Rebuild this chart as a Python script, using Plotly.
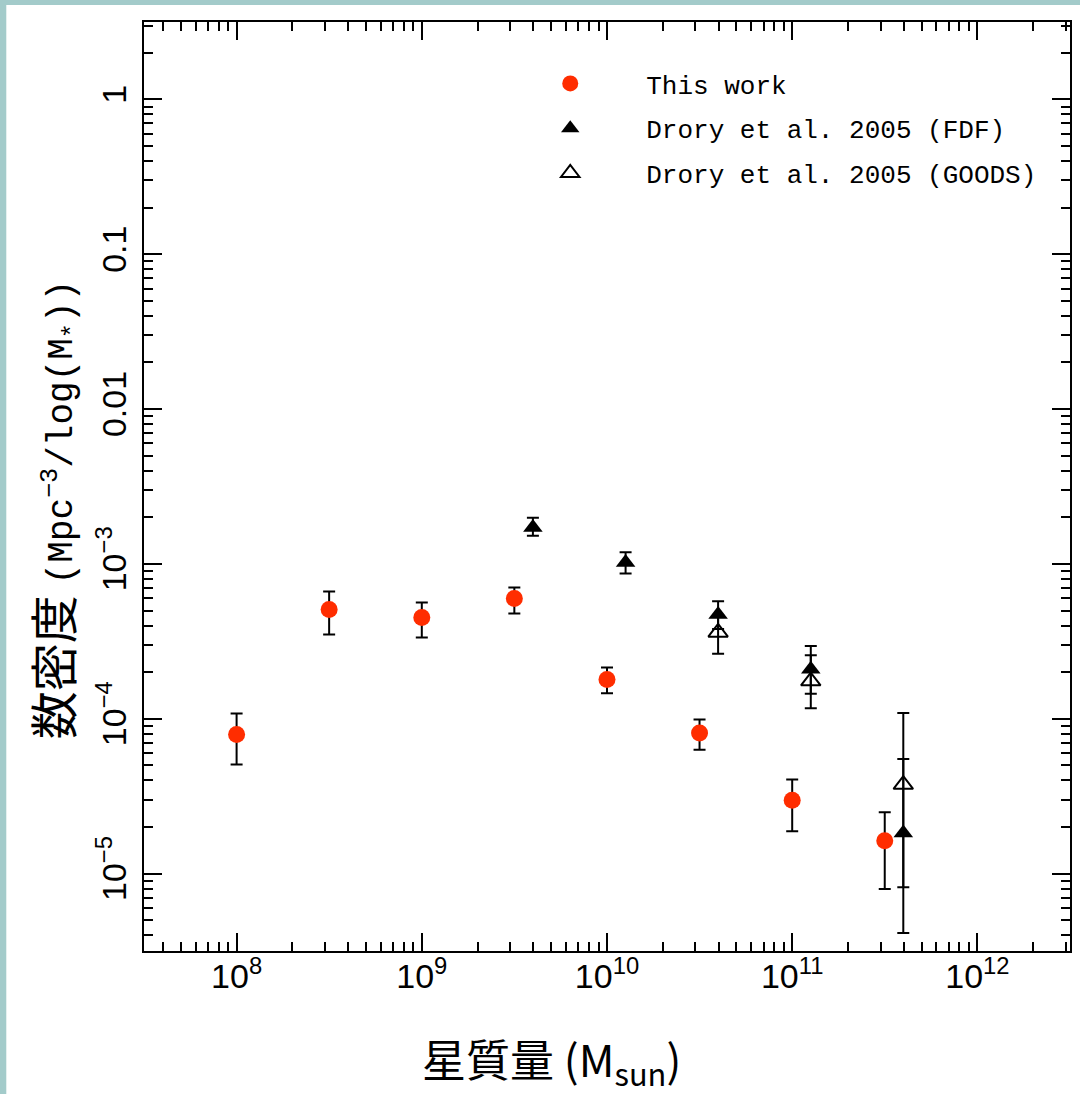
import plotly.graph_objects as go

# ---------------- data ----------------
# This work
work_mass = [1e8, 3.16e8, 1e9, 3.16e9, 1e10, 3.16e10, 1e11, 3.16e11]
work_phi = [7.9e-5, 5.07e-4, 4.5e-4, 5.98e-4, 1.79e-4, 8.1e-5, 2.98e-5, 1.63e-5]
work_hi = [1.08e-4, 6.64e-4, 5.64e-4, 7.03e-4, 2.14e-4, 9.9e-5, 4.05e-5, 2.49e-5]
work_lo = [5.06e-5, 3.5e-4, 3.35e-4, 4.79e-4, 1.46e-4, 6.3e-5, 1.88e-5, 7.96e-6]

# Drory et al. 2005 (FDF)
fdf_mass = [3.98e9, 1.26e10, 3.98e10, 1.26e11, 3.98e11]
fdf_phi = [1.72e-3, 1.02e-3, 4.71e-4, 2.09e-4, 1.83e-5]
fdf_hi = [1.99e-3, 1.19e-3, 5.75e-4, 2.95e-4, 5.5e-5]
fdf_lo = [1.52e-3, 8.67e-4, 3.8e-4, 1.45e-4, 4.14e-6]

# Drory et al. 2005 (GOODS)
goods_mass = [3.98e10, 1.26e11, 3.98e11]
goods_phi = [3.61e-4, 1.75e-4, 3.76e-5]
goods_hi = [4.68e-4, 2.57e-4, 1.09e-4]
goods_lo = [2.63e-4, 1.17e-4, 8.17e-6]

x_tickvals = [1e8, 1e9, 1e10, 1e11, 1e12]
x_ticktext = ["10<sup>8</sup>", "10<sup>9</sup>", "10<sup>10</sup>", "10<sup>11</sup>", "10<sup>12</sup>"]
y_tickvals = [1e-5, 1e-4, 1e-3, 1e-2, 1e-1, 1]
y_ticktext = ["10<sup>−5</sup>", "10<sup>−4</sup>", "10<sup>−3</sup>", "0.01", "0.1", "1"]

# -------------- helpers --------------
def err(vals, hi, lo):
    return dict(type="data", symmetric=False,
                array=[h - v for v, h in zip(vals, hi)],
                arrayminus=[v - l for v, l in zip(vals, lo)],
                color="black", thickness=2, width=6)

def minor_vals(e0, e1):
    out = []
    for e in range(e0, e1 + 1):
        for m in range(2, 10):
            out.append(m * 10.0 ** e)
    return out

RED = "#ff2d00"
fig = go.Figure()
fig.add_trace(go.Scatter(
    x=work_mass, y=work_phi, mode="markers", name="This work", legendgroup="a",
    marker=dict(symbol="circle", size=17, color=RED),
    error_y=err(work_phi, work_hi, work_lo)))
fig.add_trace(go.Scatter(
    x=fdf_mass, y=fdf_phi, mode="markers", name="Drory et al. 2005 (FDF)", legendgroup="b",
    marker=dict(symbol="triangle-up", size=17, color="black"),
    error_y=err(fdf_phi, fdf_hi, fdf_lo)))
fig.add_trace(go.Scatter(
    x=goods_mass, y=goods_phi, mode="markers", name="Drory et al. 2005 (GOODS)", legendgroup="c",
    marker=dict(symbol="triangle-up-open", size=17, color="black",
                line=dict(width=2, color="black")),
    error_y=err(goods_phi, goods_hi, goods_lo)))

W, H = 1080, 1094
L, R, T, B = 144, 8, 22, 143
PW, PH = W - L - R, H - T - B

def px(xp):
    return (xp - L) / PW

def py(yp):
    return (H - B - yp) / PH

axis_common = dict(
    type="log", showline=True, linecolor="black", linewidth=2, mirror="allticks",
    ticks="inside", ticklen=18, tickwidth=2, tickcolor="black",
    showgrid=False, zeroline=False,
    tickfont=dict(family="Liberation Sans", size=34, color="black"),
)

fig.update_xaxes(**axis_common, range=[7.5, 12.5],
                 tickvals=x_tickvals, ticktext=x_ticktext,
                 ticklabelstandoff=-6,
                 minor=dict(ticks="inside", ticklen=9, tickwidth=2, tickcolor="black",
                            tickvals=minor_vals(7, 12), showgrid=False))
fig.update_yaxes(**axis_common, range=[-5.5, 0.5],
                 tickvals=y_tickvals, ticktext=y_ticktext, tickangle=-90,
                 ticklabelstandoff=2,
                 minor=dict(ticks="inside", ticklen=9, tickwidth=2, tickcolor="black",
                            tickvals=minor_vals(-6, 0), showgrid=False))

fig.add_annotation(
    xref="paper", yref="paper", x=px(552), y=py(1060), showarrow=False,
    xanchor="center", yanchor="middle",
    text="星質量 (M<sub>sun</sub>)",
    font=dict(family="Noto Sans CJK JP", size=44, color="black"))
fig.add_annotation(
    xref="paper", yref="paper", x=px(52), y=py(510), showarrow=False, textangle=-90,
    xanchor="center", yanchor="middle",
    text="数密度 <span style='font-family:Liberation Mono;font-size:36px'>(Mpc<sup>−3</sup>/log(M<sub>*</sub>))</span>",
    font=dict(family="Noto Sans CJK JP", size=48, color="black"))

fig.add_shape(type="rect", xref="paper", yref="paper", layer="below",
              x0=px(6), x1=px(1085), y0=py(1100), y1=py(5),
              fillcolor="white", line=dict(width=0))

fig.update_layout(
    width=W, height=H, autosize=False,
    margin=dict(l=L, r=R, t=T, b=B),
    paper_bgcolor="#a3cbca", plot_bgcolor="white",
    showlegend=True,
    legend=dict(x=px(495), y=py(60), xanchor="left", yanchor="top",
                bgcolor="rgba(0,0,0,0)", itemwidth=142, tracegroupgap=8,
                font=dict(family="Liberation Mono", size=26, color="black")),
)

fig.write_html("out.html", config={"displayModeBar": False},
               post_script="document.body.style.margin='0px';")
